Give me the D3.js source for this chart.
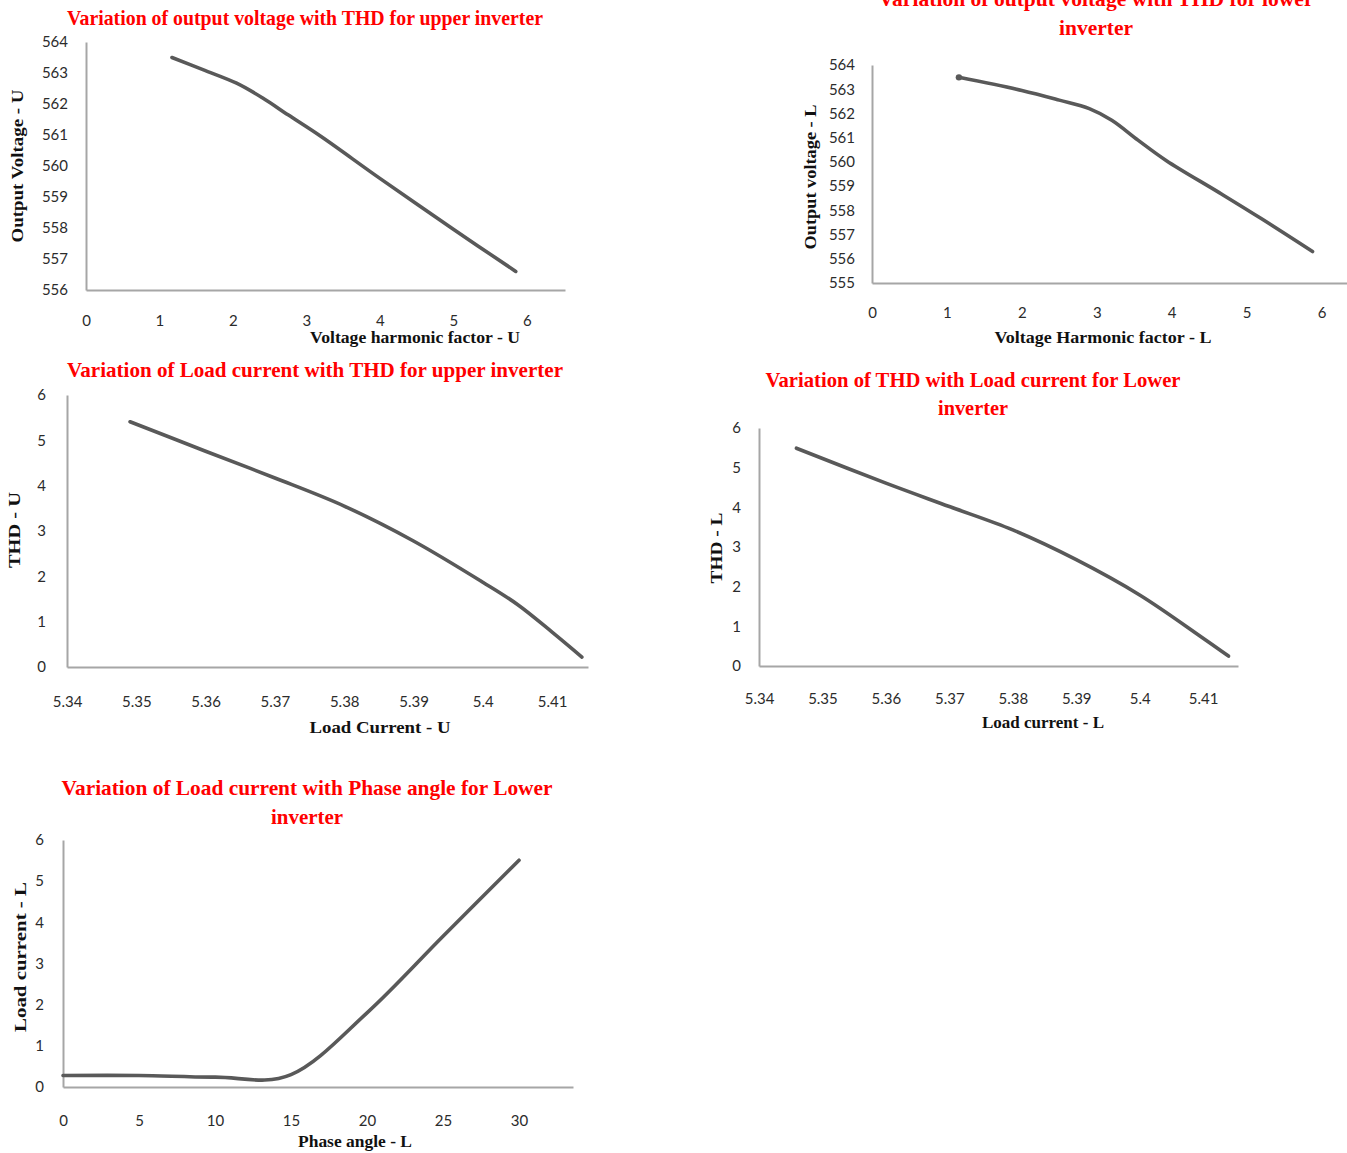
<!DOCTYPE html>
<html>
<head>
<meta charset="utf-8">
<script src="https://cdn.jsdelivr.net/npm/d3@7"></script>
<style>
  body { margin: 0; background: #fff; }
  svg { display: block; }
  .tick text { font-family: Lato, 'Open Sans', sans-serif; font-size: 15px; fill: #2b2b2b; }
</style>
</head>
<body>
<div id="chart"></div>
<script>
// panel 1 - output voltage vs THD, upper inverter
var vhfU = [1.17, 1.6, 2.05, 2.4, 2.75, 3.2, 4, 5, 5.85];
var voltU = [563.5, 563.1, 562.67, 562.2, 561.65, 560.95, 559.6, 557.96, 556.6];

// panel 2 - output voltage vs THD, lower inverter
var vhfL = [1.16, 2, 2.5, 2.9, 3.2, 3.55, 3.93, 4.64, 5.2, 5.88];
var voltL = [563.49, 562.95, 562.55, 562.2, 561.72, 560.9, 560.05, 558.72, 557.65, 556.3];

// panel 3 - THD vs load current, upper inverter
var curU = [5.3491, 5.36, 5.37, 5.38, 5.39, 5.40, 5.405, 5.41, 5.4143];
var thdU = [5.41, 4.76, 4.17, 3.55, 2.78, 1.87, 1.38, 0.77, 0.22];

// panel 4 - THD vs load current, lower inverter
var curL = [5.3459, 5.36, 5.37, 5.38, 5.39, 5.40, 5.41, 5.414];
var thdL = [5.49, 4.61, 4.02, 3.43, 2.68, 1.79, 0.70, 0.25];

// panel 5 - load current vs phase angle, lower inverter
var phase = [0, 5, 10, 15, 20, 25, 30];
var loadL = [0.28, 0.28, 0.24, 0.30, 1.80, 3.66, 5.51];

// tick labels
var vhfTicks = [0, 1, 2, 3, 4, 5, 6];
var voltTicksU = [556, 557, 558, 559, 560, 561, 562, 563, 564];
var voltTicksL = [555, 556, 557, 558, 559, 560, 561, 562, 563, 564];
var curTicks = [5.34, 5.35, 5.36, 5.37, 5.38, 5.39, 5.40, 5.41];
var thdTicks = [0, 1, 2, 3, 4, 5, 6];
var phaseTicks = [0, 5, 10, 15, 20, 25, 30];

var W = 1347, H = 1153;
var svg = d3.select('#chart').append('svg')
    .attr('width', W)
    .attr('height', H);

function panel(o) {
    var x = d3.scaleLinear().domain(o.xd).range(o.xr);
    var y = d3.scaleLinear().domain(o.yd).range(o.yr);
    var g = svg.append('g');

    var xa = g.append('g')
        .attr('transform', 'translate(0,' + o.yr[0] + ')')
        .call(d3.axisBottom(x).tickValues(o.xt).tickSize(0).tickSizeOuter(0)
            .tickPadding(o.xpad).tickFormat(d3.format('~g')));
    var ya = g.append('g')
        .attr('transform', 'translate(' + o.xr[0] + ',0)')
        .call(d3.axisLeft(y).tickValues(o.yt).tickSize(0).tickSizeOuter(0)
            .tickPadding(o.ypad).tickFormat(d3.format('~g')));
    [xa, ya].forEach(function(a) {
        a.select('.domain').attr('stroke', '#a6a6a6').attr('stroke-width', 2);
    });

    var pts = o.xs.map(function(v, i) { return [v, o.ys[i]]; });
    g.append('path')
        .datum(pts)
        .attr('fill', 'none')
        .attr('stroke', '#595959')
        .attr('stroke-width', 3.6)
        .attr('stroke-linecap', 'round')
        .attr('d', d3.line()
            .x(function(d) { return x(d[0]); })
            .y(function(d) { return y(d[1]); })
            .curve(o.curve || d3.curveCatmullRom.alpha(0.5)));

    // little smudge at the start of the lower inverter curve
    if (o.blob) {
        g.append('circle')
            .attr('cx', x(pts[0][0]))
            .attr('cy', y(pts[0][1]))
            .attr('r', 3.2)
            .style('fill', '#595959');
    }

    o.title.forEach(function(t) {
        g.append('text')
            .attr('x', t[1]).attr('y', t[2])
            .attr('text-anchor', 'middle')
            .attr('textLength', t[3])
            .attr('lengthAdjust', 'spacingAndGlyphs')
            .style('font-family', "'Liberation Serif', serif")
            .style('font-weight', 'bold')
            .style('font-size', '21px')
            .style('fill', '#ff0000')
            .text(t[0]);
    });

    var xl = o.xlab;
    g.append('text')
        .attr('x', xl[1]).attr('y', xl[2])
        .attr('text-anchor', 'middle')
        .attr('textLength', xl[3])
        .attr('lengthAdjust', 'spacingAndGlyphs')
        .style('font-family', "'Liberation Serif', serif")
        .style('font-weight', 'bold')
        .style('font-size', '17px')
        .style('fill', '#111')
        .text(xl[0]);

    var yl = o.ylab;
    g.append('text')
        .attr('transform', 'translate(' + yl[1] + ',' + yl[2] + ') rotate(-90)')
        .attr('text-anchor', 'middle')
        .attr('textLength', yl[3])
        .attr('lengthAdjust', 'spacingAndGlyphs')
        .style('font-family', "'Liberation Serif', serif")
        .style('font-weight', 'bold')
        .style('font-size', '17px')
        .style('fill', '#111')
        .text(yl[0]);
}

panel({
    xs: vhfU, ys: voltU,
    xd: [0, 6.52], xr: [86, 565], xt: vhfTicks, xpad: 25,
    yd: [556, 564], yr: [290, 42], yt: voltTicksU, ypad: 18,
    title: [['Variation of output voltage with THD for upper inverter', 305, 25, 476]],
    xlab: ['Voltage harmonic factor - U', 415, 343, 210],
    ylab: ['Output  Voltage - U', 23, 166, 153]
});

panel({
    xs: vhfL, ys: voltL, blob: true,
    xd: [0, 6.34], xr: [872, 1347], xt: vhfTicks, xpad: 24,
    yd: [555, 564], yr: [283, 65], yt: voltTicksL, ypad: 17,
    title: [['Variation of output voltage with THD for lower', 1096, 6, 435],
            ['inverter', 1096, 35, 74]],
    xlab: ['Voltage Harmonic factor - L', 1103, 343, 217],
    ylab: ['Output voltage - L', 816, 177, 145]
});

panel({
    xs: curU, ys: thdU,
    xd: [5.34, 5.41518], xr: [67, 588], xt: curTicks, xpad: 29,
    yd: [0, 6], yr: [667, 395], yt: thdTicks, ypad: 21,
    title: [['Variation of Load current with THD for upper inverter', 315, 377, 496]],
    xlab: ['Load Current - U', 380, 733, 141],
    ylab: ['THD - U', 20, 530, 76]
});

panel({
    xs: curL, ys: thdL,
    xd: [5.34, 5.4155], xr: [759, 1238], xt: curTicks, xpad: 27,
    yd: [0, 6], yr: [666, 428], yt: thdTicks, ypad: 18,
    title: [['Variation of THD with Load current for Lower', 973, 387, 415],
            ['inverter', 973, 415, 70]],
    xlab: ['Load current - L', 1043, 728, 122],
    ylab: ['THD - L', 722, 548, 71]
});

panel({
    xs: phase, ys: loadL,
    xd: [0, 33.55], xr: [63, 573], xt: phaseTicks, xpad: 28,
    yd: [0, 6], yr: [1087, 840], yt: thdTicks, ypad: 19,
    curve: d3.curveCardinal.tension(0),
    title: [['Variation of Load current with Phase angle for Lower', 307, 795, 491],
            ['inverter', 307, 824, 72]],
    xlab: ['Phase angle - L', 355, 1147, 114],
    ylab: ['Load current - L', 26, 957, 150]
});
</script>
</body>
</html>
